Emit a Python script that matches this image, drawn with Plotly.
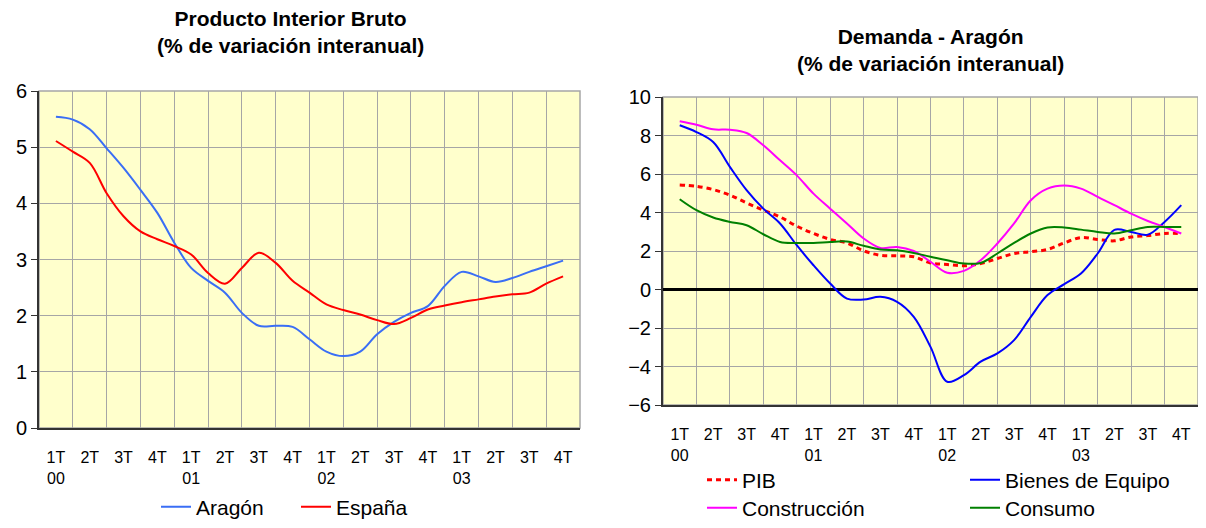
import plotly.graph_objects as go

quarters = ["1T", "2T", "3T", "4T"] * 4
years = ["00", "", "", "", "01", "", "", "", "02", "", "", "", "03", "", "", ""]
tick_text = [q + "<br>" + (y if y else " ") for q, y in zip(quarters, years)]

# readings every half quarter, from 1T00 to 4T03
t = [i / 2 for i in range(31)]

aragon = [5.54, 5.49, 5.32, 4.98, 4.63, 4.24, 3.83, 3.30, 2.85, 2.62, 2.41, 2.05, 1.82, 1.82,
          1.80, 1.58, 1.36, 1.28, 1.36, 1.67, 1.89, 2.05, 2.17, 2.53, 2.78, 2.70, 2.60, 2.67,
          2.78, 2.88, 2.98]
espana = [5.11, 4.92, 4.72, 4.18, 3.77, 3.50, 3.36, 3.24, 3.09, 2.76, 2.57, 2.85, 3.12, 2.94,
          2.62, 2.41, 2.20, 2.10, 2.02, 1.92, 1.85, 1.96, 2.11, 2.18, 2.24, 2.29, 2.34, 2.38,
          2.41, 2.57, 2.70]

pib = [5.43, 5.36, 5.19, 4.90, 4.50, 4.12, 3.77, 3.29, 2.91, 2.60, 2.42, 2.01, 1.78, 1.75,
       1.70, 1.38, 1.30, 1.23, 1.35, 1.61, 1.87, 1.96, 2.08, 2.42, 2.70, 2.60, 2.53, 2.73,
       2.80, 2.91, 2.91]
bienes = [8.53, 8.18, 7.66, 6.37, 5.16, 4.20, 3.43, 2.30, 1.26, 0.31, -0.47, -0.52, -0.38, -0.64,
          -1.42, -2.98, -4.79, -4.45, -3.75, -3.32, -2.63, -1.42, -0.29, 0.28, 0.83, 1.87, 3.10,
          2.99, 2.85, 3.51, 4.38]
construccion = [8.74, 8.56, 8.32, 8.30, 8.13, 7.49, 6.71, 5.93, 4.98, 4.20, 3.43, 2.65, 2.16, 2.21,
                2.00, 1.44, 0.87, 0.97, 1.52, 2.39, 3.43, 4.64, 5.24, 5.40, 5.24, 4.81, 4.38, 3.94,
                3.56, 3.25, 2.91]
consumo = [4.69, 4.12, 3.74, 3.51, 3.34, 2.87, 2.47, 2.42, 2.42, 2.47, 2.49, 2.27, 2.08, 2.04,
           1.90, 1.70, 1.52, 1.35, 1.38, 1.87, 2.42, 2.91, 3.22, 3.22, 3.11, 2.99, 2.91, 3.08,
           3.25, 3.25, 3.25]

# the page puts an 8px body margin round the figure; keep the figure inside the window
OFF = 8
W, H = 1206 - 2 * OFF, 528 - 2 * OFF
FONT = "Liberation Sans, Arial, sans-serif"
BG = "#FFFFCC"
GRID = "#A6A6A6"
AXIS = "#333333"


def px_x(p):
    return (p - OFF) / W


def px_y(p):
    return (H - (p - OFF)) / H


fig = go.Figure()

fig.add_trace(go.Scatter(x=t, y=aragon, name="Aragón", mode="lines", line=dict(color="#3A6EF5", width=2, shape="spline"),
                         xaxis="x", yaxis="y", legend="legend"))
fig.add_trace(go.Scatter(x=t, y=espana, name="España", mode="lines", line=dict(color="#FF0000", width=2, shape="spline"),
                         xaxis="x", yaxis="y", legend="legend"))

fig.add_trace(go.Scatter(x=t, y=pib, name="PIB", mode="lines", line=dict(color="#FF0000", width=3, dash="5px,4px", shape="spline"),
                         xaxis="x2", yaxis="y2", legend="legend2"))
fig.add_trace(go.Scatter(x=t, y=bienes, name="Bienes de Equipo", mode="lines", line=dict(color="#0000FF", width=2, shape="spline"),
                         xaxis="x2", yaxis="y2", legend="legend2"))
fig.add_trace(go.Scatter(x=t, y=construccion, name="Construcción", mode="lines", line=dict(color="#FF00FF", width=2, shape="spline"),
                         xaxis="x2", yaxis="y2", legend="legend3"))
fig.add_trace(go.Scatter(x=t, y=consumo, name="Consumo", mode="lines", line=dict(color="#008000", width=2, shape="spline"),
                         xaxis="x2", yaxis="y2", legend="legend3"))

boundaries = [i - 0.5 for i in range(17)]

xcommon = dict(
    tickmode="array", tickvals=list(range(16)), ticktext=tick_text, showgrid=False,
    ticks="", ticklabelstandoff=14, tickfont=dict(size=16, color="#000000"), ticklabeloverflow="allow",
    minor=dict(tickmode="array", tickvals=boundaries, showgrid=True, gridcolor=GRID, gridwidth=1, ticks=""),
    showline=True, linecolor=AXIS, linewidth=2, zeroline=False, fixedrange=True, range=[-0.5, 15.5],
)
ycommon = dict(
    showgrid=True, gridcolor=GRID, gridwidth=1, ticks="outside", ticklen=6, tickcolor=AXIS,
    tickwidth=1, tickfont=dict(size=20, color="#000000"), showline=True, linecolor=AXIS,
    linewidth=2, fixedrange=True,
)

legend_common = dict(orientation="h", xanchor="left", yanchor="middle", font=dict(size=21),
                     bgcolor="rgba(0,0,0,0)")

fig.update_layout(
    width=W, height=H,
    margin=dict(l=0, r=0, t=0, b=0, autoexpand=False),
    paper_bgcolor="white", plot_bgcolor=BG,
    font=dict(family=FONT, color="#000000"),
    showlegend=True,
    xaxis=dict(xcommon, domain=[px_x(39), px_x(580)], anchor="y"),
    yaxis=dict(ycommon, domain=[px_y(428), px_y(91)], range=[0, 6], dtick=1, zeroline=False, anchor="x"),
    xaxis2=dict(xcommon, domain=[px_x(663), 1.0], anchor="y2"),
    yaxis2=dict(ycommon, domain=[px_y(405), px_y(97)], range=[-6, 10], dtick=2, zeroline=True,
                zerolinecolor="#000000", zerolinewidth=3, anchor="x2"),
    legend=dict(legend_common, x=px_x(156), y=px_y(507), entrywidth=95),
    legend2=dict(legend_common, x=px_x(702), y=px_y(480), entrywidth=218),
    legend3=dict(legend_common, x=px_x(702), y=px_y(508), entrywidth=218),
)

# grey frame on the top and right of each plot area
for xr, yr in (("x", "y"), ("x2", "y2")):
    fig.add_shape(type="rect", xref=xr + " domain", yref=yr + " domain", x0=0, x1=1, y0=0, y1=1,
                  line=dict(color=GRID, width=1.5), layer="below")

fig.add_annotation(text="<b>Producto Interior Bruto<br>(% de variación interanual)</b>",
                   xref="paper", yref="paper", x=px_x(290), y=px_y(32), xanchor="center", yanchor="middle",
                   showarrow=False, font=dict(size=21, family=FONT))
fig.add_annotation(text="<b>Demanda - Aragón<br>(% de variación interanual)</b>",
                   xref="paper", yref="paper", x=px_x(930), y=px_y(49.5), xanchor="center", yanchor="middle",
                   showarrow=False, font=dict(size=21, family=FONT))

fig.write_html("out.html")
